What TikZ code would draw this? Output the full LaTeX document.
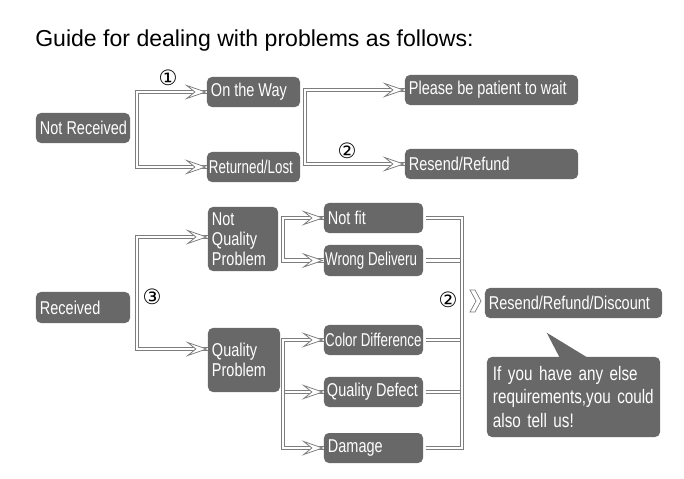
\documentclass[tikz,border=0pt]{standalone}
\usepackage{fontspec}
\setmainfont{Liberation Sans}
\newfontfamily\narrowsf[FakeStretch=0.78]{Liberation Sans}
\newfontfamily\tightsf[FakeStretch=0.72]{Liberation Sans}
\newfontfamily\circsf{DejaVu Sans}
\usetikzlibrary{positioning, arrows.meta, calc}
\definecolor{boxgray}{RGB}{104,104,104}
\definecolor{linegray}{RGB}{125,125,125}

\begin{document}
\begin{tikzpicture}[
  x=0.025cm, y=-0.025cm,
  box/.style      = {fill=boxgray, text=white, rounded corners=3.5pt, inner xsep=0.1cm, inner ysep=0pt,
                     align=left, font=\narrowsf\fontsize{13.2}{14.4}\selectfont, minimum height=0.75cm},
  lbox/.style     = {box, execute at begin node={\hbox to #1\bgroup}, execute at end node={\hfil\egroup}},
  bubble/.style   = {box, inner xsep=0.15cm, font=\narrowsf\fontsize{13.9}{16.4}\selectfont},
  dline/.style    = {draw=linegray, double=white, double distance=2pt, line width=0.55pt},
  opentip/.style  = {white, line width=0.3pt,
                     -{Stealth[length=0.55cm, width=0.38cm, inset=0.24cm, color=linegray, fill=white, line width=0.55pt]}},
  num/.style      = {font=\circsf\fontsize{15}{15}\selectfont, inner sep=0pt},
  title/.style    = {anchor=base west, font=\fontsize{16.4}{18}\selectfont, inner sep=0pt},
]
  \useasboundingbox (0,0) rectangle (684,479);
  \node[title] (head) at (35,47) {Guide for dealing with problems as follows:};

  % Not received branch
  \node[lbox=2.15cm]  (notrec) at (83,128)    {Not Received};
  \node[lbox=2.125cm] (onway)  at (253.5,92)  {On the Way};
  \node[lbox=2.225cm, inner xsep=0.05cm] (lost) at (253.5,167) {\tightsf Returned/Lost};
  \node[lbox=4.125cm] (wait)   at (491.5,90)  {Please be patient to wait};
  \node[lbox=4.125cm] (refund) at (491.5,164) {Resend/Refund};

  % Received branch
  \node[lbox=2.15cm, minimum height=0.775cm]          (recv) at (83,307.5) {Received};
  \node[box, text width=1.55cm, minimum height=1.6cm] (notq) at (243,239)  {Not\\Quality\\Problem};
  \node[box, text width=1.6cm,  minimum height=1.6cm] (qual) at (244,360)  {Quality\\Problem};
  \node[lbox=2.275cm] (notfit) at (373.5,218)   {Not fit};
  \node[lbox=2.415cm, inner xsep=0.03cm, minimum height=0.775cm] (wrong) at (373.5,260.5) {\tightsf Wrong Deliveru};
  \node[lbox=2.415cm, inner xsep=0.03cm] (color)  at (373.5,340)   {\tightsf Color Difference};
  \node[lbox=2.325cm, inner xsep=0.075cm] (defect) at (373.5,392)   {Quality Defect};
  \node[lbox=2.275cm] (damage) at (373.5,448)   {Damage};
  \node[lbox=4.225cm] (rrd)    at (573.5,303)   {Resend/Refund/Discount};
  \node[bubble, text width=4.025cm, minimum height=2cm] (note) at (573.5,397)
       {If you have any else\\requirements,you could\\also tell us!};
  \fill[boxgray] ($(note.north west)+(60,-24)$) -- ($(note.north west)+(73,1)$)
                 -- ($(note.north west)+(101,1)$) -- cycle;

  % Step numbers
  \node[num] (n1)  at (168,78)  {①};
  \node[num] (n2a) at (347,151) {②};
  \node[num] (n3)  at (152,297) {③};
  \node[num] (n2b) at (448,300) {②};

  % Bracket bars
  \coordinate (bar1) at (137,128);
  \coordinate (bar2) at (305,127);
  \coordinate (bar3) at (137,293);
  \coordinate (bar4) at (283,239);
  \coordinate (bar5) at (283,394);
  \coordinate (bar6) at (462,333);

  \draw[dline] (bar5 |- defect.west) -- (defect.west);
  \foreach \b in {wrong, color, defect}
     \draw[dline] ([xshift=2pt]\b.east) -- (bar6 |- \b.east);
  \draw[dline] (onway.west) -| (bar1) |- (lost.west);
  \draw[dline] (wait.west) -| (bar2) |- (refund.west);
  \draw[dline] ($(notq.west)+(0,-2)$) -| (bar3) |- ($(qual.west)+(0,-11)$);
  \draw[dline] (notfit.west) -| (bar4) |- (wrong.west);
  \draw[dline] (color.west) -| (bar5) |- (damage.west);
  \draw[dline] ([xshift=2pt]notfit.east) -| (bar6) |- ([xshift=2pt]damage.east);

  % Open arrow heads
  \foreach \t/\dy in {onway/0, lost/0, wait/0, refund/0, notq/-2, qual/-11,
                      notfit/0, wrong/0, color/0, defect/0, damage/0}
     \draw[opentip] ($(\t.west)+(-22,\dy)$) -- ($(\t.west)+(0,\dy)$);

  % Chevron before the result box
  \draw[linegray, line width=0.5pt] (470,290) -- (475,290) -- (481,301) -- (475,312)
       -- (470,312) -- (476,301) -- cycle;
\end{tikzpicture}
\end{document}
